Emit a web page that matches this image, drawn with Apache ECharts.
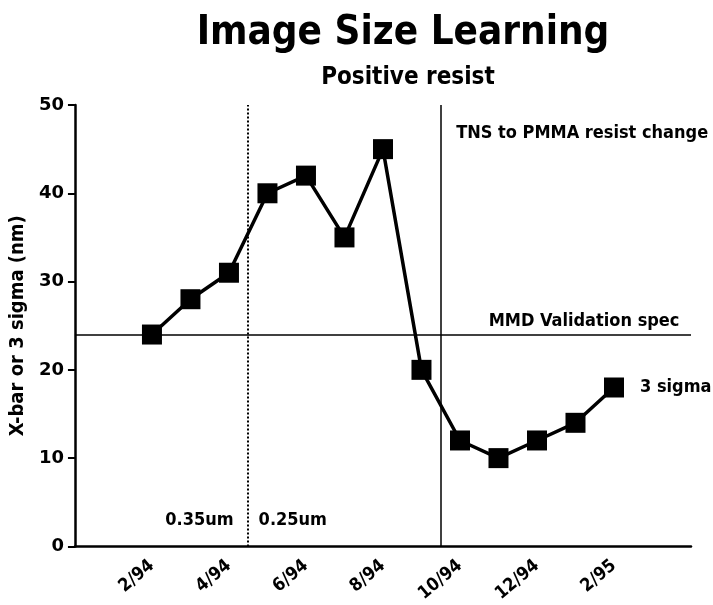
<!DOCTYPE html>
<html>
<head>
<meta charset="utf-8">
<script src="https://cdn.jsdelivr.net/npm/echarts@6/dist/echarts.min.js"></script>
<style>
html,body{margin:0;padding:0;background:#fff;}
#chart{width:713px;height:605px;}
</style>
</head>
<body>
<div id="chart"></div>
<script>
const months = ['2/94','3/94','4/94','5/94','6/94','7/94','8/94','9/94','10/94','11/94','12/94','1/95','2/95'];
const sigma = [24,28,31,40,42,35,45,20,12,10,12,14,18];
const tickLabels = ['2/94','4/94','6/94','8/94','10/94','12/94','2/95'];
const specValue = 24;
const boundaryAfter = ['4/94','9/94'];
const yMin = 0, yMax = 50, yStep = 10;

const narrow = "'DejaVu Sans Condensed', 'Liberation Sans Narrow', sans-serif";
const sans = "'DejaVu Sans', sans-serif";

const chart = echarts.init(document.getElementById('chart'), null, {renderer:'canvas'});
const b1 = months.indexOf(boundaryAfter[0]) + 0.5;
const b2 = months.indexOf(boundaryAfter[1]) + 0.5;

const ann = (text, coord, align) => ({
  coord: coord, symbol: 'circle', symbolSize: 1,
  itemStyle: {color: 'rgba(0,0,0,0)'},
  label: {show: true, formatter: text, position: 'inside', align: align, verticalAlign: 'middle',
          color: '#000', fontFamily: narrow, fontWeight: 'bold', fontSize: 18}
});

chart.setOption({
  animation: false,
  backgroundColor: '#fff',
  title: [
    {text: 'Image Size Learning', left: 398, top: 9, textAlign: 'center',
     textStyle: {fontFamily: narrow, fontWeight: 'bold', fontSize: 40, color: '#000'}},
    {text: 'Positive resist', left: 403, top: 61, textAlign: 'center',
     textStyle: {fontFamily: narrow, fontWeight: 'bold', fontSize: 24, color: '#000'}}
  ],
  grid: {left: 69, right: 22, top: 105, bottom: 57, containLabel: false},
  xAxis: {
    type: 'value', min: -2, max: 14, interval: 1,
    splitLine: {show: false},
    axisTick: {show: false},
    axisLine: {show: true, onZero: false, lineStyle: {color: '#000', width: 2.5}},
    axisLabel: {
      rotate: 40, margin: 17, color: '#000', fontFamily: narrow, fontWeight: 'bold', fontSize: 18,
      showMinLabel: true, showMaxLabel: true,
      formatter: v => (tickLabels.indexOf(months[v]) >= 0 ? months[v] : '')
    }
  },
  yAxis: {
    type: 'value', min: yMin, max: yMax, interval: yStep,
    name: 'X-bar or 3 sigma (nm)', nameLocation: 'middle', nameGap: 44, nameRotate: 90,
    nameTextStyle: {fontFamily: narrow, fontWeight: 'bold', fontSize: 20, color: '#000'},
    splitLine: {show: false},
    axisLine: {show: true, onZero: false, lineStyle: {color: '#000', width: 2.5}},
    axisTick: {show: true, length: 7, lineStyle: {color: '#000', width: 2}},
    axisLabel: {color: '#000', fontFamily: sans, fontWeight: 'bold', fontSize: 18, margin: 11}
  },
  series: [{
    type: 'line',
    data: months.map((m, i) => [i, sigma[i]]),
    symbol: 'rect', symbolSize: 20,
    itemStyle: {color: '#000'},
    lineStyle: {color: '#000', width: 3.5},
    endLabel: {show: true, formatter: '3 sigma', distance: 26, color: '#000',
               fontFamily: narrow, fontWeight: 'bold', fontSize: 18},
    markLine: {
      silent: true, symbol: ['none','none'],
      label: {show: false},
      data: [
        {xAxis: b1, lineStyle: {type: 'dotted', color: '#000', width: 2}},
        {xAxis: b2, lineStyle: {type: 'solid', color: '#000', width: 1.5}},
        {yAxis: specValue, lineStyle: {type: 'solid', color: '#000', width: 1.5}}
      ]
    },
    markPoint: {
      silent: true,
      data: [
        ann('TNS to PMMA resist change', [b2 + 0.4, 46.8], 'left'),
        ann('MMD Validation spec', [13.7, 25.5], 'right'),
        ann('0.35um', [b1 - 0.38, 2.9], 'right'),
        ann('0.25um', [b1 + 0.27, 2.9], 'left')
      ]
    }
  }]
});
</script>
</body>
</html>
